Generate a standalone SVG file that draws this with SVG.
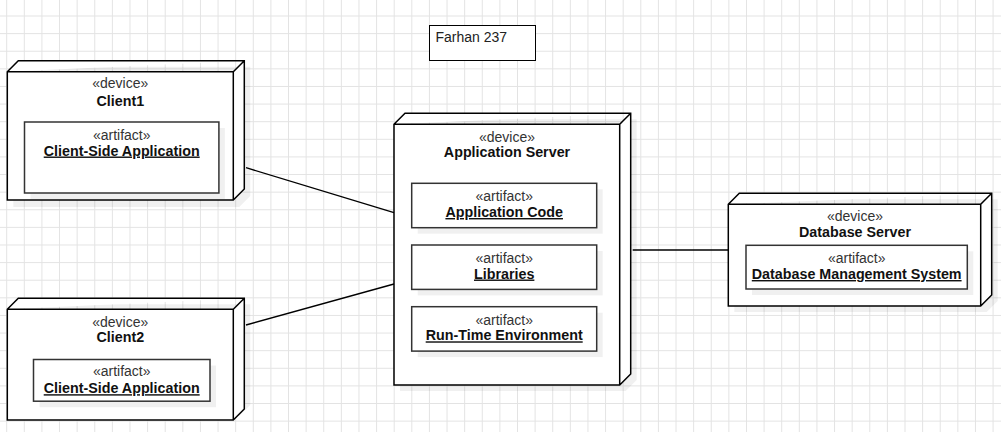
<svg xmlns="http://www.w3.org/2000/svg" width="1001" height="432" viewBox="0 0 1001 432">
<defs>
<pattern id="grid" patternUnits="userSpaceOnUse" x="6.2" y="-2.1" width="17.614" height="17.614">
<rect x="0" y="0" width="1" height="17.614" fill="#e3e3e3"/>
<rect x="0" y="0" width="17.614" height="1" fill="#e3e3e3"/>
</pattern>
<style>
.node{fill:#fff;stroke:#000;stroke-width:1.5;stroke-linejoin:miter}
.shadow{fill:#000;fill-opacity:0.06;stroke:none}
.art{fill:#fff;stroke:#333;stroke-width:1.5}
.st{font-family:"Liberation Sans",Arial,sans-serif;font-size:14px;fill:#333;text-anchor:middle}
.nm{font-family:"Liberation Sans",Arial,sans-serif;font-size:14.3px;font-weight:bold;fill:#111;text-anchor:middle}
.an{font-family:"Liberation Sans",Arial,sans-serif;font-size:14.3px;font-weight:bold;fill:#111;text-anchor:middle;text-decoration:underline}
.conn{stroke:#000;stroke-width:1.3;fill:none}
</style>
</defs>
<rect width="1001" height="432" fill="#fff"/>
<rect width="1001" height="432" fill="url(#grid)"/>

<g id="note">
<rect x="429.5" y="25.5" width="106" height="35" fill="#fff" stroke="#000" stroke-width="1"/>
<text x="435.5" y="41.5" font-family="Liberation Sans, Arial, sans-serif" font-size="14" fill="#222">Farhan 237</text>
</g>

<g id="connectors">
<line class="conn" x1="246" y1="167.7" x2="394" y2="212.7"/>
<line class="conn" x1="246" y1="325" x2="394" y2="284"/>
<line class="conn" x1="632.7" y1="250" x2="728" y2="250"/>
</g>

<g id="client1">
<path class="shadow" d="M13.3 77.7 L24.3 66.7 H250.3 V196 L239.3 207 H13.3 Z"/>
<path class="node" d="M7.3 71.7 L18.3 60.7 H244.3 V189 L233.3 200 H7.3 Z M7.3 71.7 H233.3 L244.3 60.7 M233.3 71.7 V200"/>
<text class="st" x="120.3" y="88.3">«device»</text>
<text class="nm" x="120.3" y="105.7">Client1</text>
<rect class="shadow" x="30.5" y="128" width="194.4" height="71"/>
<rect class="art" x="24.5" y="122" width="194.4" height="71"/>
<text class="st" x="121.7" y="140">«artifact»</text>
<text class="an" x="121.7" y="155.5">Client-Side Application</text>
</g>

<g id="client2">
<path class="shadow" d="M13.3 315.3 L24.3 304.3 H250.3 V405 L239.3 416 H13.3 Z"/>
<path class="node" d="M7.3 309.3 L18.3 298.3 H244.3 V409 L233.3 420 H7.3 Z M7.3 309.3 H233.3 L244.3 298.3 M233.3 309.3 V420"/>
<text class="st" x="120.3" y="326.7">«device»</text>
<text class="nm" x="120.3" y="342.3">Client2</text>
<rect class="shadow" x="39.5" y="365.5" width="176.5" height="41.7"/>
<rect class="art" x="33.5" y="359.5" width="176.5" height="41.7"/>
<text class="st" x="121.7" y="376">«artifact»</text>
<text class="an" x="121.7" y="393.2">Client-Side Application</text>
</g>

<g id="appserver">
<path class="shadow" d="M400 130.3 L411 119.3 H636.7 V380 L625.7 391 H400 Z"/>
<path class="node" d="M394 124.3 L405 113.3 H630.7 V374 L619.7 385 H394 Z M394 124.3 H619.7 L630.7 113.3 M619.7 124.3 V385"/>
<text class="st" x="507" y="141.7">«device»</text>
<text class="nm" x="507" y="157.3">Application Server</text>
<rect class="shadow" x="417.7" y="189.3" width="185" height="44.4"/>
<rect class="art" x="411.7" y="183.3" width="185" height="44.4"/>
<text class="st" x="504.2" y="201.2">«artifact»</text>
<text class="an" x="504.2" y="217">Application Code</text>
<rect class="shadow" x="417.7" y="251" width="185" height="44.4"/>
<rect class="art" x="411.7" y="245" width="185" height="44.4"/>
<text class="st" x="504.2" y="263">«artifact»</text>
<text class="an" x="504.2" y="278.5">Libraries</text>
<rect class="shadow" x="417.7" y="312.7" width="185" height="44.4"/>
<rect class="art" x="411.7" y="306.7" width="185" height="44.4"/>
<text class="st" x="504.2" y="324.5">«artifact»</text>
<text class="an" x="504.2" y="340.3">Run-Time Environment</text>
</g>

<g id="dbserver">
<path class="shadow" d="M734.3 210.3 L745.3 199.3 H997.7 V301 L986.7 312 H734.3 Z"/>
<path class="node" d="M728.3 204.3 L739.3 193.3 H991.7 V295 L980.7 306 H728.3 Z M728.3 204.3 H980.7 L991.7 193.3 M980.7 204.3 V306"/>
<text class="st" x="855" y="220.7">«device»</text>
<text class="nm" x="855" y="237.3">Database Server</text>
<rect class="shadow" x="752" y="251.3" width="221.3" height="43.7"/>
<rect class="art" x="746" y="245.3" width="221.3" height="43.7"/>
<text class="st" x="856.7" y="263.3">«artifact»</text>
<text class="an" x="856.7" y="279">Database Management System</text>
</g>
</svg>
